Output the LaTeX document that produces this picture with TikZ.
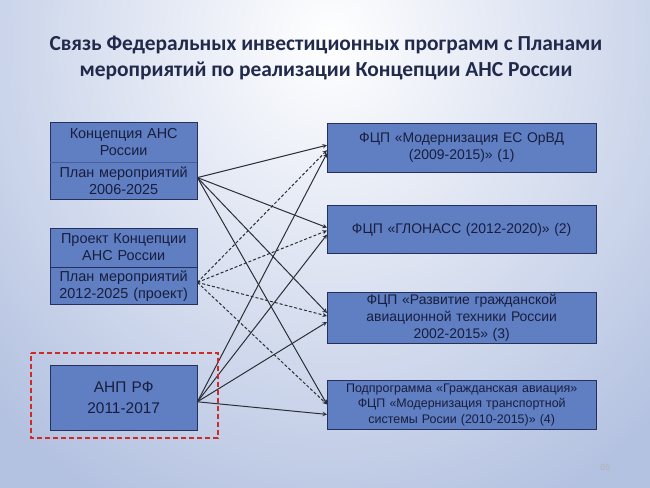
\documentclass[tikz,border=0pt]{standalone}
\usepackage{fontspec}
\setmainfont{Liberation Sans}
\newfontfamily\titlefont{Carlito}
\usepackage{xcolor}
\usepackage{tikz}
\usetikzlibrary{arrows, positioning}

\definecolor{bgblue}{RGB}{180,194,225}
\definecolor{boxblue}{RGB}{96,126,194}
\definecolor{boxline}{RGB}{38,48,92}
\definecolor{boxtext}{RGB}{24,30,62}
\definecolor{titlecolor}{RGB}{34,42,76}
\definecolor{linegray}{RGB}{45,47,55}
\definecolor{framered}{RGB}{206,42,38}

\begin{document}
\begin{tikzpicture}[x=1bp, y=-1bp, node distance=33bp]
\tikzstyle{leftbox} = [rectangle, minimum width=147bp, text width=143bp, inner sep=0pt, align=center, fill=boxblue, draw=boxline, text=boxtext, font=\fontsize{14.5}{17}\selectfont]
\tikzstyle{rightbox} = [rectangle, minimum width=269bp, text width=260bp, inner sep=0pt, align=center, fill=boxblue, draw=boxline, text=boxtext, font=\fontsize{14}{17}\selectfont]
\tikzstyle{link} = [->, >=stealth, draw=linegray, line width=1bp]
\tikzstyle{draftlink} = [link, dash pattern=on 3bp off 2bp]

% background
\fill[bgblue] (0,0) rectangle (650,488);
\begin{scope}
\clip (0,0) rectangle (650,488);
\shade[inner color=white, outer color=bgblue] (330,40) ellipse (470bp and 520bp);
\end{scope}
\useasboundingbox (0,0) rectangle (650,488);

\node (title) [text=titlecolor, align=center, font=\titlefont\bfseries\fontsize{21.5}{26}\selectfont] at (326,58) {Связь Федеральных инвестиционных программ с Планами\\мероприятий по реализации Концепции АНС России};

% left column
\node (conc) [leftbox, draw=none, minimum height=40bp, anchor=north west] at (50,122) {Концепция АНС\\России};
\node (concplan) [leftbox, draw=none, minimum height=36bp, below=0bp of conc] {План мероприятий\\2006-2025};
\draw[boxline] (conc.north west) rectangle (concplan.south east);
\draw[boxline!40!boxblue] (conc.south west) -- (conc.south east);

\node (proj) [leftbox, minimum height=39bp, below=29bp of concplan] {Проект Концепции\\АНС России};
\node (projplan) [leftbox, minimum height=37bp, below=0bp of proj] {План мероприятий\\2012-2025 (проект)};

\node (anp) [leftbox, minimum height=65bp, below=60bp of projplan, font=\fontsize{15.5}{21}\selectfont] {АНП РФ\\2011-2017};

% right column
\node (fcp1) [rightbox, minimum height=49bp, anchor=north west] at (327,123) {ФЦП «Модернизация ЕС ОрВД\\(2009-2015)» (1)};
\node (fcp2) [rightbox, minimum height=48bp, below=33bp of fcp1] {ФЦП «ГЛОНАСС (2012-2020)» (2)};
\node (fcp3) [rightbox, minimum height=51bp, below=38bp of fcp2] {ФЦП «Развитие гражданской\\авиационной техники России\\2002-2015» (3)};
\node (fcp4) [rightbox, minimum height=49bp, below=37bp of fcp3, font=\fontsize{12.5}{15.5}\selectfont] {Подпрограмма «Гражданская авиация»\\ФЦП «Модернизация транспортной\\системы Росии (2010-2015)» (4)};

\node (pagenum) [text=gray!60, font=\fontsize{9}{10}\selectfont] at (605,467) {65};

% links
\draw [link] ([yshift=3bp]concplan.east) -- ([yshift=2.5bp]fcp1.west);
\draw [link] ([yshift=3bp]concplan.east) -- ([yshift=2bp]fcp2.west);
\draw [link] ([yshift=3bp]concplan.east) -- ([yshift=4.5bp]fcp3.west);
\draw [link] ([yshift=3bp]concplan.east) -- ([yshift=0.5bp]fcp4.west);

\draw [draftlink] ([yshift=3.5bp]projplan.east) -- ([yshift=-2.5bp]fcp1.west);
\draw [draftlink] ([yshift=3.5bp]projplan.east) -- ([yshift=-1bp]fcp2.west);
\draw [draftlink] ([yshift=3.5bp]projplan.east) -- ([yshift=1.5bp]fcp3.west);
\draw [draftlink] ([yshift=3.5bp]projplan.east) -- ([yshift=0.5bp]fcp4.west);

\draw [link] ([yshift=-4.5bp]anp.east) -- ([yshift=-5.5bp]fcp1.west);
\draw [link] ([yshift=-4.5bp]anp.east) -- ([yshift=-5bp]fcp2.west);
\draw [link] ([yshift=-4.5bp]anp.east) -- ([yshift=-4.5bp]fcp3.west);
\draw [link] ([yshift=-4.5bp]anp.east) -- ([yshift=-9.5bp]fcp4.west);

% frame round АНП
\draw[framered, line width=2bp, dash pattern=on 5bp off 3bp] ([shift={(-19bp,12bp)}]anp.north west) -- ([shift={(20.5bp,12bp)}]anp.north east) -- ([shift={(20.5bp,-8bp)}]anp.south east) -- ([shift={(-19bp,-8bp)}]anp.south west) -- cycle;
\end{tikzpicture}
\end{document}
